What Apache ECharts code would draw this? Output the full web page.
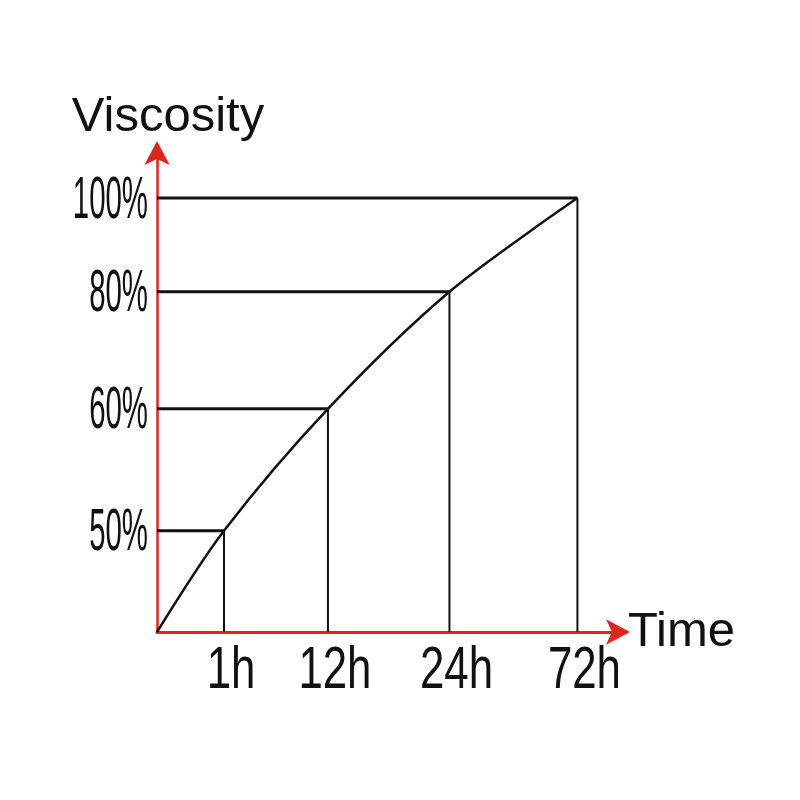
<!DOCTYPE html>
<html>
<head>
<meta charset="utf-8">
<script src="https://cdn.jsdelivr.net/npm/echarts@6/dist/echarts.min.js"></script>
<style>html,body{margin:0;padding:0;background:#fff}#chart{width:800px;height:800px}</style>
</head>
<body>
<div id="chart"></div>
<script>
const timeLabels = ['1h', '12h', '24h', '72h'];
const timePos = [14.5, 37.0, 63.3, 91.0];
const levelLabels = ['50%', '60%', '80%', '100%'];
const levelPos = [21.1, 46.5, 70.9, 90.4];
const origin = [0, 0];

const RED = '#e0261c';
const INK = '#111111';
const FONT = '"Liberation Sans", Arial, sans-serif';

const points = timePos.map((x, i) => [x, levelPos[i]]);
const curve = [origin].concat(points);

const chart = echarts.init(document.getElementById('chart'), null, {renderer: 'canvas'});

chart.setOption({
  animation: false,
  backgroundColor: '#ffffff',
  grid: {left: 157, right: 181, top: 152, bottom: 168},
  xAxis: {
    type: 'value', min: 0, max: 100,
    axisLine: {show: true, onZero: true, symbol: ['none', 'arrow'], symbolSize: [19, 24],
      symbolOffset: [0, 11],
      lineStyle: {color: RED, width: 3}},
    axisTick: {show: false}, axisLabel: {show: false}, splitLine: {show: false},
    name: 'Time', nameLocation: 'end', nameGap: 9,
    nameTextStyle: {fontSize: 49, fontFamily: FONT, color: INK, verticalAlign: 'middle', padding: [0, 0, 8, 0]}
  },
  yAxis: {
    type: 'value', min: 0, max: 100,
    axisLine: {show: true, symbol: ['none', 'arrow'], symbolSize: [19, 24],
      symbolOffset: [0, 11],
      lineStyle: {color: RED, width: 2.5}},
    axisTick: {show: false}, axisLabel: {show: false}, splitLine: {show: false},
    name: 'Viscosity', nameLocation: 'end', nameGap: 10,
    nameTextStyle: {fontSize: 49, fontFamily: FONT, color: INK, padding: [0, 0, 0, 22]}
  },
  series: [
    {
      // guide lines from each point to both axes
      type: 'custom',
      data: points,
      silent: true,
      z: 1,
      renderItem: function (params, api) {
        const x = api.value(0), y = api.value(1);
        const p = api.coord([x, y]);
        const py = api.coord([0, y]);
        const px = api.coord([x, 0]);
        return {
          type: 'group',
          children: [
            {type: 'line', shape: {x1: py[0], y1: py[1], x2: p[0], y2: p[1]},
              style: {stroke: INK, lineWidth: 3}},
            {type: 'line', shape: {x1: p[0], y1: p[1], x2: px[0], y2: px[1]},
              style: {stroke: INK, lineWidth: 2}}
          ]
        };
      }
    },
    {
      type: 'line',
      data: curve,
      smooth: 0.3,
      showSymbol: false,
      symbol: 'none',
      silent: true,
      z: 2,
      lineStyle: {color: INK, width: 2.5}
    },
    {
      // viscosity tick labels (condensed lettering)
      type: 'custom',
      data: levelPos.map((v, i) => [0, v, levelLabels[i]]),
      silent: true,
      renderItem: function (params, api) {
        const c = api.coord([0, api.value(1)]);
        return {
          type: 'text', x: c[0] - 9, y: c[1] + 3, scaleX: 0.49,
          style: {text: levelLabels[params.dataIndex], fontSize: 60, fontFamily: FONT,
            fill: INK, align: 'right', verticalAlign: 'middle'}
        };
      }
    },
    {
      // time tick labels
      type: 'custom',
      data: timePos.map((v, i) => [v, 0, timeLabels[i]]),
      silent: true,
      renderItem: function (params, api) {
        const c = api.coord([api.value(0), 0]);
        return {
          type: 'text', x: c[0] + 7, y: c[1] + 39, scaleX: 0.73,
          style: {text: timeLabels[params.dataIndex], fontSize: 60, fontFamily: FONT,
            fill: INK, align: 'center', verticalAlign: 'middle'}
        };
      }
    }
  ]
});
</script>
</body>
</html>
